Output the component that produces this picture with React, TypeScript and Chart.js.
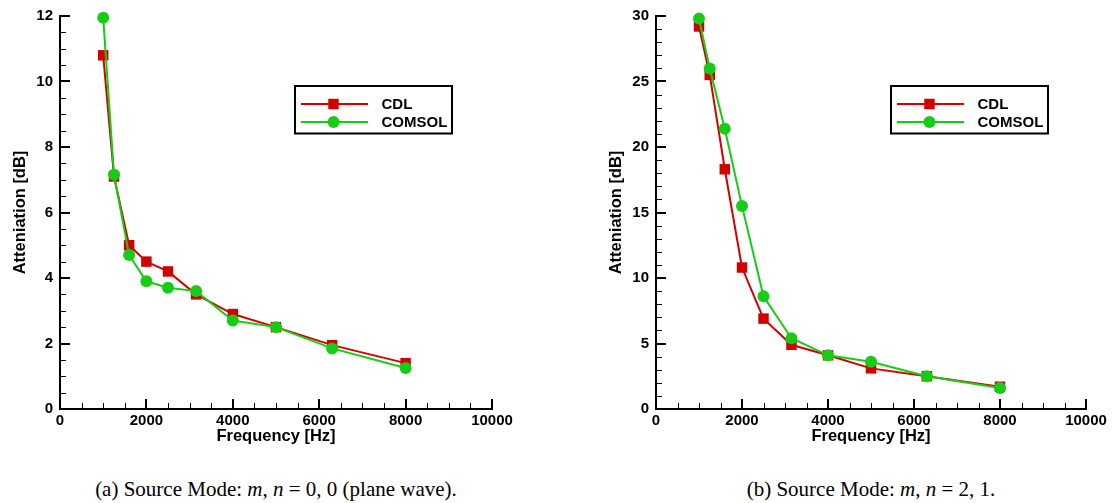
import React, { useEffect, useRef } from "react";
import { Chart, registerables } from "chart.js";
import { drawPoint } from "chart.js/helpers";

Chart.register(...registerables);

// ---------------- data ----------------
const frequencies = [1000, 1250, 1600, 2000, 2500, 3150, 4000, 5000, 6300, 8000];
// (a) plane wave m,n = 0,0
const cdlPlane = [10.8, 7.1, 5.0, 4.5, 4.2, 3.5, 2.9, 2.5, 1.95, 1.4];
const comsolPlane = [11.95, 7.15, 4.7, 3.9, 3.7, 3.6, 2.7, 2.5, 1.85, 1.25];
// (b) mode m,n = 2,1
const cdlMode21 = [29.2, 25.5, 18.3, 10.8, 6.9, 4.9, 4.1, 3.1, 2.5, 1.7];
const comsolMode21 = [29.8, 26.0, 21.4, 15.5, 8.6, 5.4, 4.1, 3.6, 2.5, 1.6];

const seriesNames = ["CDL", "COMSOL"];
const xAxisTitle = "Frequency [Hz]";
const yAxisTitle = "Atteniation [dB]";
const xRange = [0, 10000];
const xMajorStep = 2000;
const yRangeA = [0, 12];
const yMajorStepA = 2;
const yRangeB = [0, 30];
const yMajorStepB = 5;

const RED = "#d20000";
const GREEN = "#16cc16";
const SANS = "'Liberation Sans', Arial, Helvetica, sans-serif";
const SERIF = "'Liberation Serif', 'Times New Roman', Times, serif";

// ---------------- plugins ----------------
const inwardTicksPlugin = {
  id: "inwardTicks",
  afterDraw(chart: any, _args: any, opts: any) {
    const { ctx, scales } = chart;
    const x = scales.x;
    const y = scales.y;
    ctx.save();
    ctx.strokeStyle = "#000";
    const drawAxis = (scale: any, minorDiv: number, horizontal: boolean) => {
      const vals = scale.ticks.map((t: any) => t.value);
      const step = vals[1] - vals[0];
      const minorStep = step / minorDiv;
      const n = Math.round((scale.max - scale.min) / minorStep);
      for (let i = 0; i <= n; i++) {
        const v = scale.min + i * minorStep;
        const major = i % minorDiv === 0;
        const len = major ? 10 : 6;
        ctx.lineWidth = major ? 2 : 1;
        ctx.beginPath();
        if (horizontal) {
          const px = Math.round(scale.getPixelForValue(v)) + (major ? 0 : 0.5);
          const base = y.bottom;
          ctx.moveTo(px, base);
          ctx.lineTo(px, base - len);
        } else {
          const py = Math.round(scale.getPixelForValue(v)) + (major ? 0 : 0.5);
          const base = x.left;
          ctx.moveTo(base, py);
          ctx.lineTo(base + len, py);
        }
        ctx.stroke();
      }
    };
    drawAxis(x, opts.xMinor, true);
    drawAxis(y, opts.yMinor, false);
    ctx.restore();
  },
};

const boxLegendPlugin = {
  id: "boxLegend",
  afterDraw(chart: any, _args: any, opts: any) {
    const { ctx, chartArea } = chart;
    const bx = chartArea.left + opts.offsetX;
    const by = opts.top;
    const bw = opts.width;
    const bh = opts.height;
    ctx.save();
    ctx.fillStyle = "#fff";
    ctx.fillRect(bx, by, bw, bh);
    ctx.strokeStyle = "#000";
    ctx.lineWidth = 2;
    ctx.strokeRect(bx, by, bw, bh);
    chart.data.datasets.forEach((ds: any, i: number) => {
      const ry = by + 18 + i * 18;
      ctx.strokeStyle = ds.borderColor;
      ctx.lineWidth = 2;
      ctx.beginPath();
      ctx.moveTo(bx + 6, ry);
      ctx.lineTo(bx + 73, ry);
      ctx.stroke();
      ctx.fillStyle = ds.backgroundColor;
      drawPoint(ctx, { pointStyle: ds.pointStyle, radius: ds.pointRadius, borderWidth: 0, rotation: 0 } as any, bx + 38.5, ry);
      ctx.fillStyle = "#000";
      ctx.font = `bold 15px ${SANS}`;
      ctx.textBaseline = "middle";
      ctx.textAlign = "left";
      ctx.fillText(ds.label, bx + 86.5, ry + 1);
    });
    ctx.restore();
  },
};

// ---------------- chart component ----------------
type Props = {
  left: number;
  width: number;
  padRight: number;
  cdl: number[];
  comsol: number[];
  yRange: number[];
  yStep: number;
  yMinor: number;
};

function AttenuationChart({ left, width, padRight, cdl, comsol, yRange, yStep, yMinor }: Props) {
  const ref = useRef<HTMLCanvasElement>(null);
  const height = 460;
  useEffect(() => {
    const canvas = ref.current!;
    const tickFont = { family: SANS, size: 15, weight: "bold" as const };
    const titleFont = { family: SANS, size: 16.5, weight: "bold" as const };
    const chart = new Chart(canvas, {
      type: "line",
      data: {
        datasets: [
          {
            label: seriesNames[0],
            data: frequencies.map((f, i) => ({ x: f, y: cdl[i] })),
            borderColor: RED,
            backgroundColor: RED,
            borderWidth: 2,
            pointStyle: "rect",
            pointRadius: 7.4,
            pointHoverRadius: 7.4,
            pointBorderWidth: 0,
            tension: 0,
            order: 2,
            clip: false as any,
          },
          {
            label: seriesNames[1],
            data: frequencies.map((f, i) => ({ x: f, y: comsol[i] })),
            borderColor: GREEN,
            backgroundColor: GREEN,
            borderWidth: 2,
            pointStyle: "circle",
            pointRadius: 6,
            pointHoverRadius: 6,
            pointBorderWidth: 0,
            tension: 0,
            order: 1,
            clip: false as any,
          },
        ],
      },
      options: {
        animation: false,
        responsive: false,
        devicePixelRatio: 1,
        events: [],
        layout: { padding: { top: 16, left: 0, right: padRight, bottom: 0 } },
        plugins: {
          legend: { display: false },
          tooltip: { enabled: false },
          inwardTicks: { xMinor: 4, yMinor },
          boxLegend: { offsetX: 235, top: 86, width: 157, height: 47.5 },
        } as any,
        scales: {
          x: {
            type: "linear",
            min: xRange[0],
            max: xRange[1],
            ticks: {
              stepSize: xMajorStep,
              padding: 3,
              color: "#000",
              font: tickFont,
              maxRotation: 0,
              autoSkip: false,
              callback: (v: any) => String(v),
            },
            grid: { display: false, drawTicks: false },
            border: { display: true, color: "#000", width: 2 },
            title: {
              display: true,
              text: xAxisTitle,
              color: "#000",
              font: titleFont,
              padding: { top: 0, bottom: 14 },
            },
            afterFit: (s: any) => {
              s.height = 51;
            },
          },
          y: {
            type: "linear",
            min: yRange[0],
            max: yRange[1],
            ticks: {
              stepSize: yStep,
              padding: 7,
              color: "#000",
              font: tickFont,
              callback: (v: any) => String(v),
            },
            grid: { display: false, drawTicks: false },
            border: { display: true, color: "#000", width: 2 },
            title: {
              display: true,
              text: yAxisTitle,
              color: "#000",
              font: titleFont,
              padding: { top: 10.5, bottom: 0 },
            },
            afterFit: (s: any) => {
              s.width = 60;
            },
          },
        },
      },
      plugins: [inwardTicksPlugin, boxLegendPlugin],
    });
    return () => chart.destroy();
  }, []);
  return (
    <canvas
      ref={ref}
      width={width}
      height={height}
      style={{ position: "absolute", left, top: 0, width, height }}
    />
  );
}

const captionStyle = (center: number): React.CSSProperties => ({
  position: "absolute",
  left: center - 300,
  width: 600,
  top: 477,
  height: 24,
  lineHeight: "24px",
  fontFamily: SERIF,
  fontSize: 21,
  textAlign: "center",
  color: "#000",
  whiteSpace: "nowrap",
});

export default function App() {
  return (
    <div
      style={{
        position: "absolute",
        left: 0,
        top: 0,
        width: 1115,
        height: 503,
        background: "#fff",
        overflow: "hidden",
      }}
    >
      <AttenuationChart
        left={0}
        width={560}
        padRight={68}
        cdl={cdlPlane}
        comsol={comsolPlane}
        yRange={yRangeA}
        yStep={yMajorStepA}
        yMinor={4}
      />
      <AttenuationChart
        left={596}
        width={519}
        padRight={29}
        cdl={cdlMode21}
        comsol={comsolMode21}
        yRange={yRangeB}
        yStep={yMajorStepB}
        yMinor={5}
      />
      <div style={captionStyle(276)}>
        (a) Source Mode: <i>m</i>, <i>n</i> = 0, 0 (plane wave).
      </div>
      <div style={captionStyle(871)}>
        (b) Source Mode: <i>m</i>, <i>n</i> = 2, 1.
      </div>
    </div>
  );
}
